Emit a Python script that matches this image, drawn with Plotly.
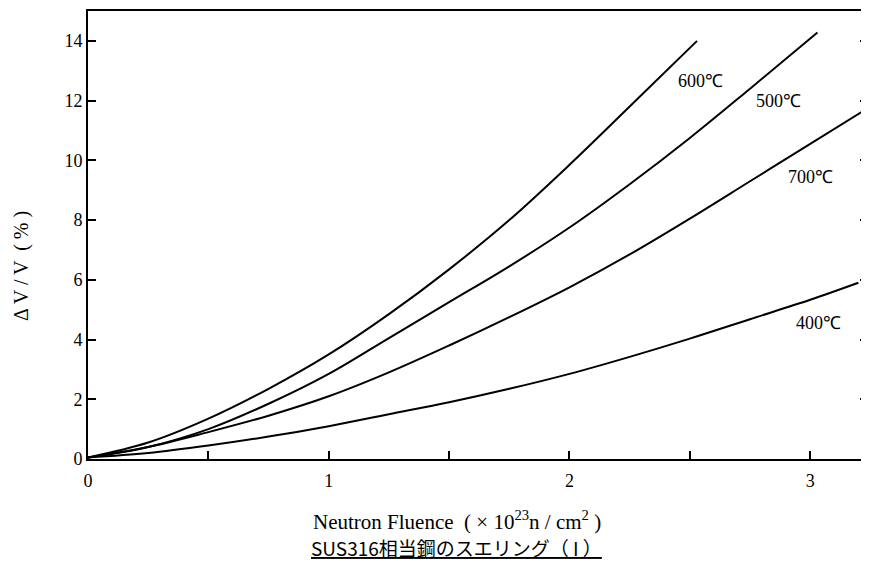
import plotly.graph_objects as go

# Data
x_600 = [0.0, 0.25, 0.5, 0.75, 1.0, 1.25, 1.5, 1.75, 2.0, 2.25, 2.53]
y_600 = [0.05, 0.55, 1.35, 2.35, 3.5, 4.85, 6.35, 8.0, 9.85, 11.8, 14.0]

x_500 = [0.0, 0.25, 0.5, 0.75, 1.0, 1.25, 1.5, 1.75, 2.0, 2.25, 2.5, 2.75, 3.03]
y_500 = [0.05, 0.4, 1.0, 1.85, 2.85, 4.05, 5.25, 6.45, 7.75, 9.2, 10.75, 12.4, 14.28]

x_700 = [0.0, 0.25, 0.5, 0.75, 1.0, 1.25, 1.5, 1.75, 2.0, 2.25, 2.5, 2.75, 3.0, 3.24]
y_700 = [0.05, 0.4, 0.9, 1.45, 2.1, 2.9, 3.8, 4.75, 5.75, 6.85, 8.05, 9.3, 10.55, 11.75]

x_400 = [0.0, 0.25, 0.5, 0.75, 1.0, 1.25, 1.5, 1.75, 2.0, 2.25, 2.5, 2.75, 3.0, 3.2]
y_400 = [0.05, 0.2, 0.45, 0.75, 1.1, 1.5, 1.9, 2.35, 2.85, 3.42, 4.03, 4.68, 5.33, 5.9]

series = [
    ("600℃", x_600, y_600),
    ("500℃", x_500, y_500),
    ("700℃", x_700, y_700),
    ("400℃", x_400, y_400),
]

# Curve label positions (data coordinates)
label_names = ["600℃", "500℃", "700℃", "400℃"]
label_x = [2.545, 2.87, 3.0, 3.035]
label_y = [12.65, 12.0, 9.45, 4.55]

x_major = [0, 1, 2, 3]
x_minor = [0.5, 1.5, 2.5]
y_tickvals = [0, 2, 4, 6, 8, 10, 12, 14]

serif = "Liberation Serif, Times New Roman, serif"

fig = go.Figure()
for name, xs, ys in series:
    fig.add_trace(go.Scatter(x=xs, y=ys, mode="lines", name=name,
                             line=dict(color="black", width=2, shape="spline", smoothing=1.0),
                             showlegend=False))

for name, lx, ly in zip(label_names, label_x, label_y):
    fig.add_annotation(x=lx, y=ly, text=name, showarrow=False,
                       font=dict(family=serif, size=18, color="black"))

fig.update_xaxes(range=[0, 3.24], tickvals=x_major,
                 ticks="inside", ticklen=8, tickwidth=2, tickcolor="black",
                 minor=dict(tickvals=x_minor, ticks="inside", ticklen=8, tickwidth=2,
                            tickcolor="black", showgrid=False),
                 showline=True, linewidth=2, linecolor="black", mirror=True,
                 showgrid=False, zeroline=False, ticklabelstandoff=4,
                 tickfont=dict(family=serif, size=18, color="black"))
fig.update_yaxes(range=[0, 15], tickvals=y_tickvals,
                 ticks="inside", ticklen=8, tickwidth=2, tickcolor="black",
                 showline=True, linewidth=2, linecolor="black", mirror="ticks",
                 showgrid=False, zeroline=False,
                 tickfont=dict(family=serif, size=18, color="black"))

fig.add_annotation(xref="paper", yref="paper", x=-0.0846, y=0.431,
                   xanchor="center", yanchor="middle",
                   text="Δ V / V  ( % )", textangle=-90, showarrow=False,
                   font=dict(family=serif, size=20, color="black"))
fig.add_annotation(xref="paper", yref="paper", x=0.473, y=-0.138,
                   xanchor="center", yanchor="middle",
                   text="Neutron Fluence  ( × 10<sup>23</sup>n / cm<sup>2</sup> )", showarrow=False,
                   font=dict(family=serif, size=21, color="black"))
fig.add_annotation(xref="paper", yref="paper", x=0.473, y=-0.198,
                   xanchor="center", yanchor="middle",
                   text="<u>SUS316相当鋼のスエリング（ I ）</u>", showarrow=False,
                   font=dict(family="Noto Sans CJK JP, sans-serif", size=19, color="black"))

fig.update_layout(width=861, height=554,
                  margin=dict(l=80, r=1, t=3, b=103, autoexpand=False),
                  paper_bgcolor="white", plot_bgcolor="white")

fig.write_html("out.html")
